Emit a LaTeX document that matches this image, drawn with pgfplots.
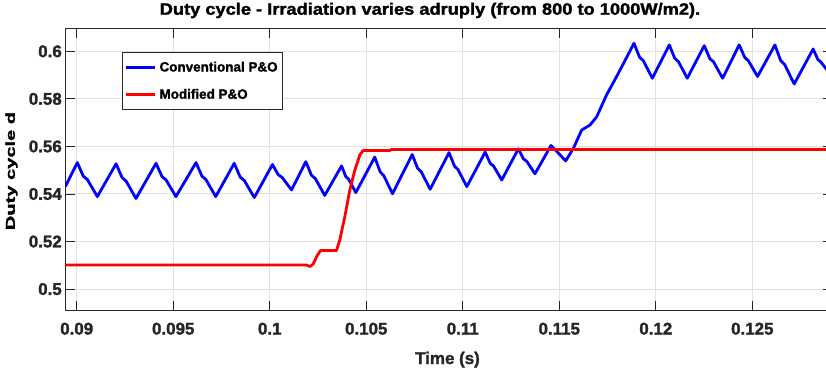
\documentclass[border=0pt]{standalone}
\usepackage{fontspec}
\setmainfont{Liberation Sans}[BoldFeatures={FakeBold=1.6}]
\usepackage{graphicx}
\usepackage{pgfplots}
\pgfplotsset{compat=1.18}
\definecolor{axgray}{RGB}{38,38,38}
\definecolor{gridgray}{RGB}{225,225,225}
\begin{document}
\begin{tikzpicture}
\begin{axis}[
  name=ax,
  scale only axis,
  width=768.1bp, height=282.4bp,
  xmin=0.089409, xmax=0.1292,
  ymin=0.4909, ymax=0.6097,
  xtick={0.09,0.095,0.1,0.105,0.11,0.115,0.12,0.125},
  xticklabels={0.09,0.095,0.1,0.105,0.11,0.115,0.12,0.125},
  ytick={0.5,0.52,0.54,0.56,0.58,0.6},
  yticklabels={0.5,0.52,0.54,0.56,0.58,0.6},
  xtick pos=both, ytick pos=both,
  xticklabel pos=lower, yticklabel pos=left,
  tick align=inside,
  major tick length=10bp,
  tick style={color=axgray, line width=0.9bp},
  axis line style={color=axgray, line width=0.9bp},
  grid=major,
  major grid style={color=gridgray, line width=1bp},
  ticklabel style={font=\bfseries\fontsize{17}{20}\selectfont, text=axgray},
  xticklabel style={yshift=-8.5bp},
  title={\scalebox{1.11}[1]{Duty cycle - Irradiation varies adruply (from 800 to 1000W/m2).}},
  title style={font=\bfseries\fontsize{16.5}{19}\selectfont, at={(axis description cs:0.4748,1)}, anchor=base, yshift=7.6bp},
  xlabel={Time (s)},
  xlabel style={font=\bfseries\fontsize{17}{20}\selectfont, text=axgray, at={(axis description cs:0.4976,0)}, anchor=base, yshift=-53.3bp},
  ylabel={\scalebox{1.55}[1]{Duty cycle d}},
  ylabel style={font=\bfseries\fontsize{13}{15}\selectfont, at={(axis description cs:-0.07004,0.4947)}, anchor=center},
  legend style={at={(axis description cs:0.0742,0.915)}, anchor=north west,
    draw=axgray, line width=0.9bp, fill=white,
    font=\bfseries\fontsize{13.5}{15}\selectfont,
    inner xsep=2bp, inner ysep=6bp, row sep=10bp,
    nodes={inner sep=3bp}},
  legend cell align=left,
  legend image code/.code={\draw[#1] (0bp,0bp) -- (29bp,0bp);},
  line join=round,
]
\addplot[color=blue, line width=2.8bp] coordinates {
(0.08941,0.5431) (0.09003,0.5532) (0.09034,0.5475) (0.09055,0.5461) (0.09107,0.5389)
(0.09204,0.5527) (0.09235,0.5469) (0.09256,0.5454) (0.09307,0.5381)
(0.09411,0.5529) (0.09442,0.5473) (0.09463,0.5459) (0.09514,0.5389)
(0.09618,0.5532) (0.09649,0.5475) (0.09669,0.5461) (0.09720,0.5389)
(0.09816,0.5529) (0.09847,0.5471) (0.09868,0.5457) (0.09920,0.5385)
(0.10014,0.5524) (0.10044,0.5481) (0.10064,0.5470) (0.10113,0.5417)
(0.10187,0.5536) (0.10216,0.5479) (0.10236,0.5465) (0.10285,0.5394)
(0.10372,0.5518) (0.10394,0.5473) (0.10409,0.5462) (0.10446,0.5406)
(0.10544,0.5555) (0.10572,0.5493) (0.10590,0.5478) (0.10636,0.5401)
(0.10738,0.5566) (0.10766,0.5508) (0.10785,0.5493) (0.10831,0.5420)
(0.10929,0.5574) (0.10957,0.5517) (0.10975,0.5503) (0.11021,0.5431)
(0.11116,0.5576) (0.11142,0.5529) (0.11159,0.5518) (0.11202,0.5459)
(0.11288,0.5590) (0.11314,0.5548) (0.11331,0.5538) (0.11374,0.5485)
(0.11457,0.5604) (0.11495,0.5572) (0.11533,0.5539)
(0.11573,0.5592) (0.11616,0.5669) (0.11659,0.5690) (0.11694,0.5725)
(0.11745,0.5817) (0.11797,0.5894)
(0.11887,0.6034) (0.11916,0.5975) (0.11935,0.5961) (0.11982,0.5887)
(0.12070,0.6027) (0.12098,0.5971) (0.12117,0.5957) (0.12163,0.5887)
(0.12251,0.6024) (0.12280,0.5969) (0.12299,0.5956) (0.12346,0.5887)
(0.12432,0.6027) (0.12461,0.5974) (0.12480,0.5960) (0.12527,0.5894)
(0.12617,0.6027) (0.12647,0.5961) (0.12667,0.5945) (0.12717,0.5863)
(0.12815,0.6010) (0.12840,0.5965) (0.12855,0.5955) (0.12880,0.5929) (0.12920,0.5885)
};
\addlegendentry{Conventional P\&O}
\addplot[color=red, line width=2.8bp] coordinates {
(0.0894,0.5101) (0.1019,0.5101) (0.10208,0.5095) (0.10225,0.5105) (0.10245,0.5140)
(0.10263,0.5162) (0.10346,0.5162) (0.10363,0.5207) (0.10389,0.5305) (0.10415,0.5417)
(0.10441,0.5501) (0.10467,0.5564) (0.10484,0.5583) (0.10622,0.5583) (0.10630,0.5587)
(0.1292,0.5587)
};
\addlegendentry{Modified P\&O}
\end{axis}
\pgfresetboundingbox
\path[use as bounding box] (ax.south west) ++(-65.3bp,-63.3bp) rectangle ++(826bp,374bp);
\end{tikzpicture}
\end{document}
